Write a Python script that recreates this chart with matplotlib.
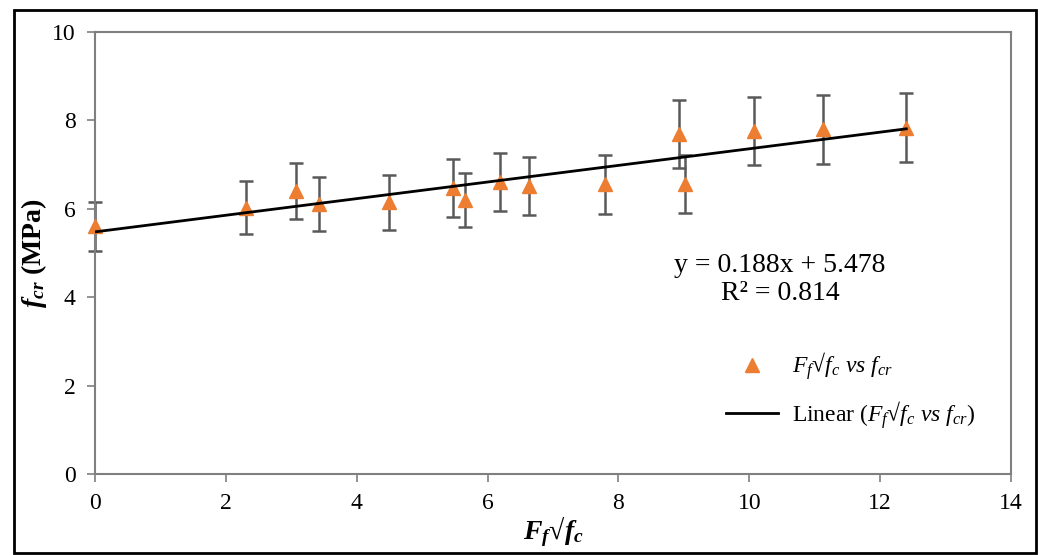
import matplotlib.pyplot as plt
from matplotlib.patches import Rectangle

plt.rcParams['font.family'] = 'Liberation Serif'
plt.rcParams['mathtext.fontset'] = 'custom'
plt.rcParams['mathtext.rm'] = 'Liberation Serif'
plt.rcParams['mathtext.it'] = 'Liberation Serif:italic'
plt.rcParams['mathtext.bf'] = 'Liberation Serif:bold:italic'

# gemeten waarden
x = [0.0, 2.31, 3.07, 3.42, 4.50, 5.47, 5.66, 6.19, 6.64, 7.79, 8.93, 9.02, 10.07, 11.13, 12.40]
fcr = [5.60, 6.02, 6.40, 6.10, 6.15, 6.47, 6.20, 6.60, 6.52, 6.55, 7.70, 6.56, 7.75, 7.80, 7.83]
err = [0.56, 0.60, 0.64, 0.61, 0.62, 0.65, 0.62, 0.66, 0.65, 0.66, 0.77, 0.66, 0.77, 0.78, 0.78]

# trendlijn uit Excel
slope = 0.188
intercept = 5.478
r2 = 0.814

fig = plt.figure(figsize=(10.43, 5.55), dpi=100)
ax = fig.add_axes([95 / 1043, 81 / 555, 916 / 1043, 442 / 555])

eb = ax.errorbar(x, fcr, yerr=err, fmt='none', ecolor='#595959', elinewidth=1.8,
                 capsize=5, capthick=1.8, zorder=2)
for art in eb.lines[1] + eb.lines[2]:
    art.set_clip_on(False)
ax.plot(x, fcr, linestyle='none', marker='^', markersize=10, color='#ED7D31',
        label=r'$F_f$√$f_c$ $vs$ $f_{cr}$', zorder=3, clip_on=False)

xt = [min(x), max(x)]
ax.plot(xt, [slope * v + intercept for v in xt], color='black', linewidth=2,
        label=r'Linear ($F_f$√$f_c$ $vs$ $f_{cr}$)', zorder=4)

ax.set_xlim(0, 14)
ax.set_ylim(0, 10)
ax.set_xticks(range(0, 15, 2))
ax.set_yticks(range(0, 11, 2))
for s in ax.spines.values():
    s.set_color('#7f7f7f')
    s.set_linewidth(1.5)
ax.tick_params(direction='out', length=6, width=1.2, color='#7f7f7f',
               labelsize=17, pad=8)

ax.set_xlabel(r'$\mathbf{F_f}$√$\mathbf{f_c}$', fontsize=20, fontweight='bold', labelpad=0)
ax.set_ylabel(r'$\mathbf{f_{cr}}$ (MPa)', fontsize=20, fontweight='bold', labelpad=2)

ax.text(0.748, 0.44, 'y = 0.188x + 5.478\nR² = 0.814', transform=ax.transAxes,
        fontsize=20, ha='center', va='center', linespacing=1.2)

ax.legend(loc='lower right', bbox_to_anchor=(0.985, 0.05), frameon=False,
          fontsize=17, handlelength=2.2, handletextpad=0.6, labelspacing=0.7,
          markerfirst=True)

# rand om de figuur
fig.patches.append(Rectangle((14 / 1043, 2 / 555), 1022 / 1043, 543 / 555,
                             transform=fig.transFigure, fill=False,
                             edgecolor='black', linewidth=2))

plt.savefig('out.png', dpi=100)
